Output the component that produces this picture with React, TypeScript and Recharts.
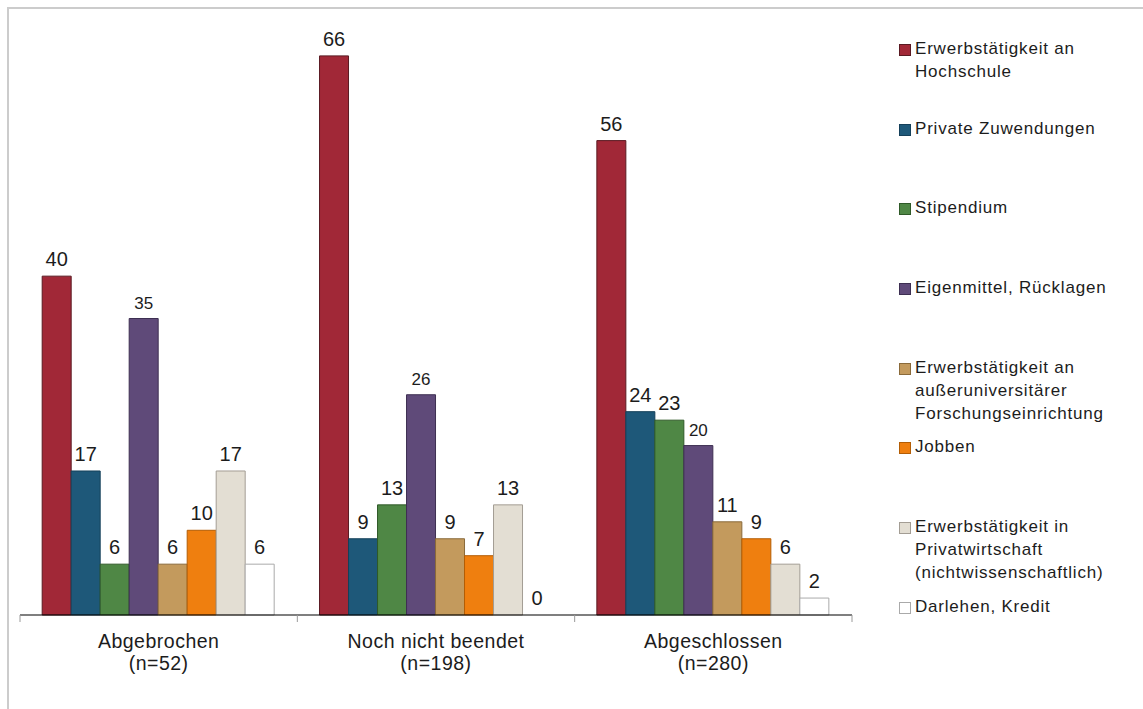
import React from "react"
import { BarChart, Bar, XAxis, YAxis, LabelList, Legend, Cell } from "recharts"

// groups on the x axis
const categories = ["Abgebrochen", "Noch nicht beendet", "Abgeschlossen"]
const sampleSizes = ["(n=52)", "(n=198)", "(n=280)"]

// percent values per funding source
const hochschule = [40, 66, 56]
const privatZuwendungen = [17, 9, 24]
const stipendium = [6, 13, 23]
const eigenmittel = [35, 26, 20]
const ausseruniversitaer = [6, 9, 11]
const jobben = [10, 7, 9]
const privatwirtschaft = [17, 13, 6]
const darlehen = [6, 0, 2]

const seriesNames = [
  ["Erwerbstätigkeit an", "Hochschule"],
  ["Private Zuwendungen"],
  ["Stipendium"],
  ["Eigenmittel, Rücklagen"],
  ["Erwerbstätigkeit an", "außeruniversitärer", "Forschungseinrichtung"],
  ["Jobben"],
  ["Erwerbstätigkeit in", "Privatwirtschaft", "(nichtwissenschaftlich)"],
  ["Darlehen, Kredit"],
]
const seriesValues = [
  hochschule,
  privatZuwendungen,
  stipendium,
  eigenmittel,
  ausseruniversitaer,
  jobben,
  privatwirtschaft,
  darlehen,
]

const fills = ["#A12837", "#1E5879", "#4F8745", "#5F4A79", "#C39A5D", "#EF7F0F", "#E3DED3", "#FFFFFF"]
const strokes = ["#5a1a22", "#15405a", "#2f5a28", "#3d2f52", "#8a6a3a", "#b35d05", "#a39d94", "#aaaaaa"]
const labelSizes = [20, 20, 20, 17, 20, 20, 20, 20]

const FONT = '"Liberation Sans", Arial, sans-serif'
const TEXT = "#1c1c1c"

const data = categories.map((name, i) => {
  const row: any = { name, n: sampleSizes[i] }
  seriesValues.forEach((vals, s) => {
    row["s" + s] = vals[i]
  })
  return row
})

function CategoryTick(props: any) {
  const { x, y, payload, index } = props
  const half = payload?.offset ?? 0
  return (
    <g>
      <line x1={x - half} x2={x - half} y1={y} y2={y + 7} stroke="#9a9a9a" />
      {index === categories.length - 1 && (
        <line x1={x + half} x2={x + half} y1={y} y2={y + 7} stroke="#9a9a9a" />
      )}
      <text x={x} y={y + 33} textAnchor="middle" fontSize={19.5} fill={TEXT} style={{ letterSpacing: 0.5 }}>
        {payload.value}
      </text>
      <text x={x} y={y + 55} textAnchor="middle" fontSize={19.5} fill={TEXT} style={{ letterSpacing: 0.5 }}>
        {sampleSizes[index]}
      </text>
    </g>
  )
}

// value label above each bar, also drawn for zero-height bars
function makeValueLabel(size: number) {
  return function ValueLabel(props: any) {
    const { x, y, width, height, value } = props
    if (value === undefined || value === null) return null
    const top = Math.min(Number(y), Number(y) + Number(height || 0))
    return (
      <text
        x={Number(x) + Number(width) / 2}
        y={top - 10}
        textAnchor="middle"
        fontSize={size}
        fill={TEXT}
        fontFamily={FONT}
      >
        {value}
      </text>
    )
  }
}

function LegendBox() {
  return (
    <div style={{ fontFamily: FONT, fontSize: 17, color: TEXT, letterSpacing: 0.8 }}>
      {seriesNames.map((lines, i) => (
        <div key={i} style={{ height: 79.7, position: "relative" }}>
          <div
            style={{
              position: "absolute",
              left: 2,
              top: 7,
              width: 10,
              height: 10,
              background: fills[i],
              border: `1px solid ${strokes[i]}`,
            }}
          />
          <div style={{ marginLeft: 18, lineHeight: "23px" }}>
            {lines.map((l, j) => (
              <div key={j}>{l}</div>
            ))}
          </div>
        </div>
      ))}
    </div>
  )
}

export default function App() {
  return (
    <div style={{ position: "absolute", left: 0, top: 0, width: 1143, height: 709, background: "#fff" }}>
      <div
        style={{
          position: "absolute",
          left: 7,
          top: 7,
          width: 1136,
          height: 702,
          borderLeft: "2px solid #cccccc",
          borderTop: "2px solid #cccccc",
          boxSizing: "border-box",
        }}
      />
      <div style={{ position: "absolute", left: 0, top: 0 }}>
        <BarChart
          width={1143}
          height={709}
          data={data}
          margin={{ top: 22, right: 291, left: 20, bottom: 0 }}
          barCategoryGap="8%"
          barGap={0}
          style={{ fontFamily: FONT }}
        >
          <YAxis hide domain={[0, 70]} />
          <Legend
            layout="horizontal"
            verticalAlign="middle"
            align="center"
            wrapperStyle={{ left: 897, top: 37, width: 246 }}
            content={() => <LegendBox />}
          />
          {seriesValues.map((vals, s) => (
            <Bar
              key={s}
              dataKey={"s" + s}
              name={seriesNames[s].join(" ")}
              fill={fills[s]}
              stroke={strokes[s]}
              strokeWidth={1}
              minPointSize={(v: any) => (Number(v) === 0 ? 0.01 : 0)}
              isAnimationActive={false}
            >
              {vals.map((v, i) => (
                <Cell key={i} stroke={v === 0 ? "none" : strokes[s]} />
              ))}
              <LabelList dataKey={"s" + s} content={makeValueLabel(labelSizes[s])} />
            </Bar>
          ))}
          <XAxis
            dataKey="name"
            height={94}
            tickLine={false}
            tickSize={0}
            tickMargin={0}
            axisLine={{ stroke: "#000", strokeWidth: 1.2 }}
            tick={<CategoryTick />}
            interval={0}
          />
        </BarChart>
      </div>
    </div>
  )
}
